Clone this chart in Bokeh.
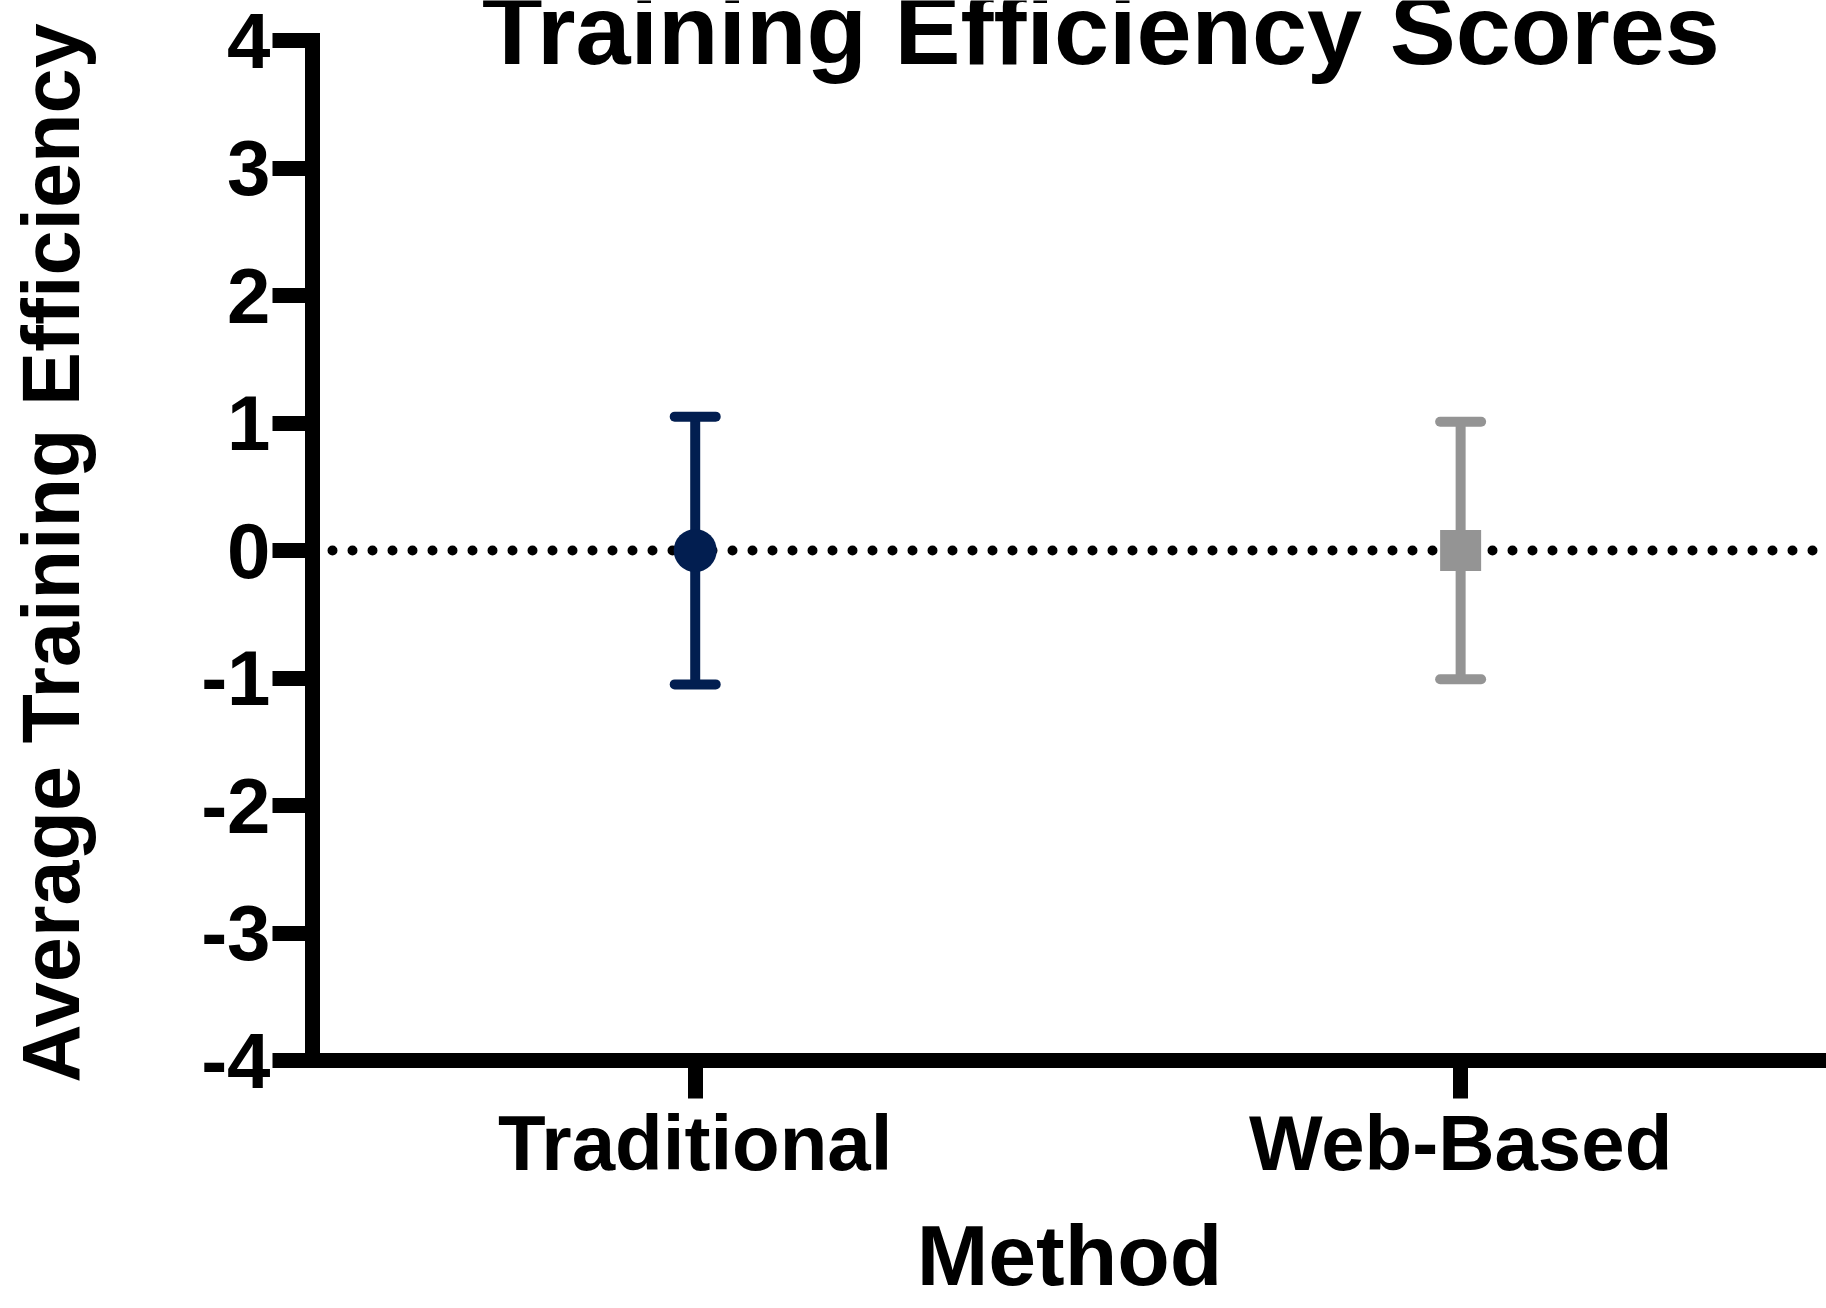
from bokeh.plotting import figure
from bokeh.models import (ColumnDataSource, Range1d, FixedTicker, Span, Whisker,
                          TeeHead, Label)
from bokeh.embed import file_html
from bokeh.resources import INLINE

# ---- data ----
methods = ["Traditional", "Web-Based"]
means = [0.0, 0.0]
upper = [1.05, 1.01]
lower = [-1.05, -1.01]
colors = ["#021e50", "#949494"]
y_ticks = [-4, -3, -2, -1, 0, 1, 2, 3, 4]
y_tick_labels = ["-4", "-3", "-2", "-1", "0", "1", "2", "3", "4"]
title_text = "Training Efficiency Scores"

FONT = "Liberation Sans"
xs = list(range(len(methods)))

p = figure(width=1826, height=1308, output_backend="svg", toolbar_location=None,
           x_range=Range1d(-0.5, 1.478), y_range=Range1d(-4, 4.314),
           min_border_left=312, min_border_right=0, min_border_top=0,
           min_border_bottom=248)
p.outline_line_color = None
p.xgrid.visible = False
p.ygrid.visible = False
p.background_fill_color = "white"
p.border_fill_color = "white"

# reference dotted line at 0
span = Span(location=0, dimension="width", line_color="black", line_width=10,
            line_dash="0 20", line_cap="round", level="underlay")
p.add_layout(span)

# error bars
for i in range(len(methods)):
    src = ColumnDataSource(dict(base=[xs[i]], upper=[upper[i]], lower=[lower[i]]))
    w = Whisker(source=src, base="base", upper="upper", lower="lower",
                line_color=colors[i], line_width=10,
                upper_head=TeeHead(size=41, line_color=colors[i], line_width=10, line_cap="round"),
                lower_head=TeeHead(size=41, line_color=colors[i], line_width=10, line_cap="round"))
    p.add_layout(w)

# markers
p.scatter(x=[xs[0]], y=[means[0]], marker="circle", size=43,
          fill_color=colors[0], line_color=None)
p.scatter(x=[xs[1]], y=[means[1]], marker="square", size=41,
          fill_color=colors[1], line_color=None)

# axes
for ax in (p.xaxis[0], p.yaxis[0]):
    ax.axis_line_width = 15
    ax.axis_line_color = "black"
    ax.axis_line_cap = "square"
    ax.major_tick_line_width = 15
    ax.major_tick_line_color = "black"
    ax.major_tick_in = 0
    ax.minor_tick_line_color = None
    ax.major_label_text_font = FONT
    ax.major_label_text_font_style = "bold"
    ax.major_label_text_font_size = "78px"
    ax.major_label_text_color = "black"
    ax.axis_label_text_font = FONT
    ax.axis_label_text_font_style = "bold"
    ax.axis_label_text_color = "black"

p.xaxis.ticker = FixedTicker(ticks=xs)
p.xaxis.major_label_overrides = {x: m for x, m in zip(xs, methods)}
p.xaxis.major_tick_out = 38
p.xaxis.major_label_standoff = 0
p.xaxis.axis_label = "Method"
p.xaxis.axis_label_text_font_size = "86px"
p.xaxis.axis_label_standoff = 17

p.yaxis.ticker = FixedTicker(ticks=y_ticks)
p.yaxis.bounds = (-4, 4)
p.yaxis.major_label_overrides = {t: s for t, s in zip(y_ticks, y_tick_labels)}
p.yaxis.major_tick_out = 40
p.yaxis.major_label_standoff = 2
p.yaxis.axis_label = "Average Training Efficiency" + "\u00a0" * 2
p.yaxis.axis_label_text_font_size = "81px"
p.yaxis.axis_label_standoff = 102

# title placed at the top of the canvas (partly cut off as in reference)
p.add_layout(Label(x=0.53, y=4.09, text=title_text, text_font=FONT,
                   text_font_style="bold", text_font_size="99px",
                   text_align="center", text_baseline="alphabetic",
                   text_color="black"))

open("out.html", "w").write(file_html(p, INLINE))
